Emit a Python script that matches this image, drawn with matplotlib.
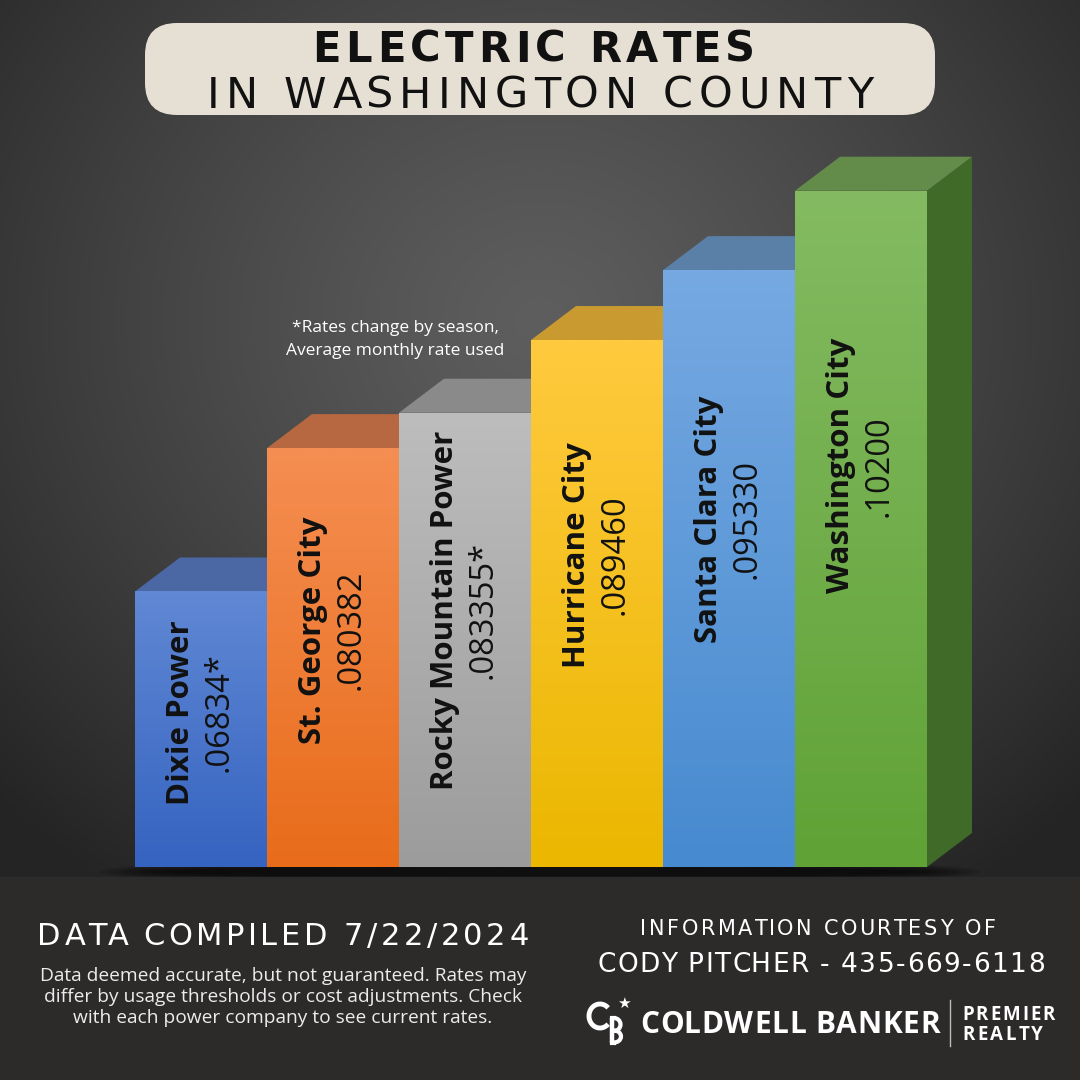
import matplotlib
matplotlib.use("Agg")
import matplotlib.pyplot as plt
import numpy as np
from matplotlib.patches import Polygon, FancyBboxPatch, Rectangle, Ellipse, Arc
from matplotlib.colors import LinearSegmentedColormap

# data
companies = ["Dixie Power", "St. George City", "Rocky Mountain Power",
             "Hurricane City", "Santa Clara City", "Washington City"]
rates = [0.06834, 0.080382, 0.083355, 0.08946, 0.09533, 0.10200]
rate_labels = [".06834*", ".080382", ".083355*", ".089460", ".095330", ".10200"]

# colours per bar: front top, front bottom, top face, side top, side bottom
front_top = ["#6088d4", "#f58e52", "#bdbdbd", "#ffca3e", "#76a9e2", "#84bb62"]
front_bot = ["#3563c0", "#e86c1a", "#9c9c9c", "#ebb700", "#478acf", "#60a236"]
top_col = ["#4b68a4", "#b86840", "#8a8a8a", "#c89a30", "#5a80a8", "#638c4a"]
side_top = ["#3d5a96", "#a85a30", "#7a7a7a", "#b08a20", "#4a6e98", "#567f3c"]
side_bot = ["#2d4a86", "#984a20", "#6a6a6a", "#a07a10", "#3a5e88", "#3f6a28"]

# vertical position of the rotated labels inside each bar (rate units)
label_y = [0.0582, 0.0651, 0.0668, 0.0714, 0.0744, 0.0789]

W = H = 1080
fig = plt.figure(figsize=(10.8, 10.8), dpi=100)
renderer = fig.canvas.get_renderer()

# background layer in pixel coords
bg = fig.add_axes([0, 0, 1, 1])
bg.set_xlim(0, W)
bg.set_ylim(H, 0)
bg.axis("off")


def text_w(s, **kw):
    t = bg.text(0, 0, s, **kw)
    w = t.get_window_extent(renderer).width
    t.remove()
    return w


def spaced_text(x, y, s, width, ha="center", **kw):
    # letter-spaced text so that the whole string spans `width` pixels
    base = text_w(s, **kw)
    wi = text_w("I", **kw)
    track = (width - base) / (len(s) - 1)
    x0 = x - width / 2 if ha == "center" else x
    for k, ch in enumerate(s):
        pos = 0 if k == 0 else text_w(s[:k] + "I", **kw) - wi
        if ch != " ":
            bg.text(x0 + pos + track * k, y, ch, ha="left", va="baseline", **kw)


yy, xx = np.mgrid[0:H, 0:W]
r = np.hypot(xx - 540, (yy - 320) * 1.1) / 760
shade = 94 - 58 * np.clip(r, 0, 1) ** 1.2
bg.imshow(np.dstack([shade] * 3) / 255, extent=(0, W, H, 0), zorder=0)

# floor shadow + footer
for k in range(8):
    bg.add_patch(Ellipse((540, 872), 880 - k * 20, 30 - k * 3, color="black",
                         alpha=0.12, lw=0, zorder=1))
bg.add_patch(Rectangle((0, 877), W, H - 877, color="#2d2a2a", zorder=2))

# title box
bg.add_patch(FancyBboxPatch((145, 23), 790, 92, boxstyle="round,pad=0,rounding_size=32",
                            fc="#e6dfd3", ec="none", zorder=3))
spaced_text(534, 62, "ELECTRIC RATES", 443, fontsize=30, fontweight="bold",
            family="DejaVu Sans", color="#111111", zorder=4)
spaced_text(540, 108, "IN WASHINGTON COUNTY", 666, fontsize=31,
            family="DejaVu Sans", color="#111111", zorder=4)

# note
bg.text(395, 332, "*Rates change by season,", ha="center", va="baseline",
        fontsize=12.5, family="Open Sans", color="white", zorder=4)
bg.text(395, 355, "Average monthly rate used", ha="center", va="baseline",
        fontsize=12.5, family="Open Sans", color="white", zorder=4)

# bars
v0 = 0.0452
ax = fig.add_axes([135 / W, (H - 867) / H, 792 / W, 712 / H])
ax.patch.set_alpha(0)
ax.axis("off")
ylim = (v0, 0.1050)
xlim = (-0.5, len(rates) - 0.5)
px_x = 792 / len(rates)
px_y = 712 / (ylim[1] - ylim[0])
dx = 45 / px_x
dy = 34 / px_y
grad = np.linspace(0, 1, 256).reshape(-1, 1)

for i, (v, name, lab) in enumerate(zip(rates, companies, rate_labels)):
    z = 10 + i * 4
    x0, x1 = i - 0.5, i + 0.5
    side = Polygon([(x1, v0), (x1 + dx, v0 + dy), (x1 + dx, v + dy), (x1, v)],
                   closed=True, fc=side_bot[i], ec="none", zorder=z, clip_on=False)
    ax.add_patch(side)
    cm_s = LinearSegmentedColormap.from_list("s%d" % i, [side_bot[i], side_top[i]])
    ims = ax.imshow(grad, extent=(x1, x1 + dx, v0, v + dy), origin="lower",
                    aspect="auto", cmap=cm_s, zorder=z + 0.5)
    ims.set_clip_path(side)
    ax.add_patch(Polygon([(x0, v), (x1, v), (x1 + dx, v + dy), (x0 + dx, v + dy)],
                         closed=True, fc=top_col[i], ec="none", zorder=z + 1, clip_on=False))
    bars = ax.bar(i, v - v0, bottom=v0, width=1, color=front_bot[i], zorder=z + 2)
    cmap = LinearSegmentedColormap.from_list("g%d" % i, [front_bot[i], front_top[i]])
    im = ax.imshow(grad, extent=(x0, x1, v0, v), origin="lower", aspect="auto",
                   cmap=cmap, zorder=z + 2.5)
    im.set_clip_path(bars[0])
    ax.annotate(name, xy=(i, label_y[i]), xytext=(-20, 0), textcoords="offset pixels",
                rotation=90, ha="center", va="center", fontsize=22.5, fontweight="bold",
                family="Open Sans", color="#111111", zorder=z + 3)
    ax.annotate(lab, xy=(i, label_y[i]), xytext=(18, 0), textcoords="offset pixels",
                rotation=90, ha="center", va="center", fontsize=23.5,
                family="Open Sans", color="#111111", zorder=z + 3)

ax.set_xlim(*xlim)
ax.set_ylim(*ylim)

# footer text
spaced_text(283, 945, "DATA COMPILED 7/22/2024", 491, fontsize=22,
            family="DejaVu Sans", color="white", zorder=5)
disclaimer = ["Data deemed accurate, but not guaranteed. Rates may",
              "differ by usage thresholds or cost adjustments. Check",
              "with each power company to see current rates."]
for k, line in enumerate(disclaimer):
    bg.text(283, 981 + k * 21, line, ha="center", va="baseline", fontsize=13.8,
            family="Open Sans", color="#ececec", zorder=5)
spaced_text(818, 935, "INFORMATION COURTESY OF", 355, fontsize=15,
            family="DejaVu Sans", color="white", zorder=5)
spaced_text(821, 972, "CODY PITCHER - 435-669-6118", 447, fontsize=19,
            family="DejaVu Sans", color="white", zorder=5)

# logo
bg.add_patch(Arc((600, 1016), 22, 24, theta1=45, theta2=315, lw=3.5, color="white", zorder=5))
bg.plot([612, 612], [1018, 1043], color="white", lw=3.2, solid_capstyle="butt", zorder=5)
bg.add_patch(Arc((614, 1024.5), 13, 13, theta1=-90, theta2=90, lw=3, color="white", zorder=5))
bg.add_patch(Arc((614, 1036.5), 14, 12, theta1=-90, theta2=90, lw=3, color="white", zorder=5))
bg.plot([612, 614], [1018, 1018], color="white", lw=3, zorder=5)
bg.plot([612, 614], [1042.5, 1042.5], color="white", lw=3, zorder=5)
bg.text(624, 1008, "\u2605", ha="center", va="baseline", fontsize=11,
        family="DejaVu Sans", color="white", zorder=5)
spaced_text(640, 1033, "COLDWELL BANKER", 300, ha="left", fontsize=21.5,
            fontweight="bold", family="Open Sans", color="white", zorder=5)
bg.plot([950, 950], [1000, 1046], color="#bbbbbb", lw=1, zorder=5)
spaced_text(962, 1020, "PREMIER", 93, ha="left", fontsize=13.5, fontweight="bold",
            family="Open Sans", color="white", zorder=5)
spaced_text(962, 1040, "REALTY", 81, ha="left", fontsize=13.5, fontweight="bold",
            family="Open Sans", color="white", zorder=5)

fig.savefig("out.png", dpi=100)
